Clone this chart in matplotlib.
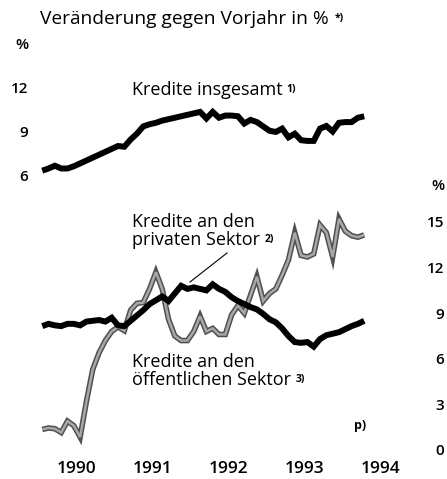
import numpy as np
import matplotlib
matplotlib.use("Agg")
import matplotlib.pyplot as plt
from matplotlib.lines import Line2D

plt.rcParams['font.family'] = ['Open Sans', 'DejaVu Sans']

# monthly values, Jan 1990 .. Apr 1994
total = [6.3, 6.45, 6.64, 6.45, 6.45, 6.6, 6.8, 7.0, 7.2, 7.4, 7.6, 7.8,
         8.0, 7.95, 8.45, 8.85, 9.35, 9.5, 9.6, 9.75, 9.85, 9.95, 10.05, 10.15,
         10.25, 10.35, 9.9, 10.35, 9.95, 10.1, 10.1, 10.05, 9.55, 9.8, 9.65, 9.35,
         9.05, 8.97, 9.2, 8.6, 8.85, 8.4, 8.35, 8.35, 9.2, 9.38, 9.0, 9.6,
         9.65, 9.65, 9.95, 10.05]
public = [8.15, 8.3, 8.2, 8.15, 8.3, 8.3, 8.2, 8.45, 8.5, 8.55, 8.45, 8.7,
          8.2, 8.15, 8.5, 8.85, 9.2, 9.6, 9.85, 10.1, 9.8, 10.3, 10.8, 10.6,
          10.7, 10.6, 10.5, 10.9, 10.6, 10.4, 10.05, 9.8, 9.6, 9.4, 9.25, 8.95,
          8.6, 8.4, 8.0, 7.5, 7.1, 7.05, 7.1, 6.8, 7.3, 7.55, 7.65, 7.75,
          7.95, 8.15, 8.3, 8.5]
private = [1.35, 1.45, 1.4, 1.15, 1.9, 1.6, 0.85, 3.2, 5.3, 6.4, 7.2, 7.8,
           8.1, 7.85, 9.2, 9.65, 9.7, 10.6, 11.7, 10.6, 8.6, 7.5, 7.2, 7.2,
           7.8, 8.8, 7.8, 8.0, 7.6, 7.6, 8.9, 9.5, 9.0, 10.2, 11.4, 9.8,
           10.3, 10.6, 11.5, 12.5, 14.3, 12.8, 12.7, 12.9, 14.8, 14.3, 12.7, 15.2,
           14.4, 14.1, 14.0, 14.15]
years = [1990, 1991, 1992, 1993, 1994]

t = 1990 + (np.arange(len(total)) + 0.5) / 12

W, H = 447, 479
fig = plt.figure(figsize=(W / 100, H / 100), dpi=100)

def px_axes(x0, y0, x1, y1):
    return fig.add_axes([x0 / W, 1 - y1 / H, (x1 - x0) / W, (y1 - y0) / H])

def ftext(x, y, s, **kw):
    return fig.text(x / W, 1 - y / H, s, **kw)

ax_top = px_axes(35, 40, 400, 190)
ax_bot = px_axes(35, 190, 400, 455)
for ax in (ax_top, ax_bot):
    ax.set_facecolor('none')
    for sp in ax.spines.values():
        sp.set_visible(False)
    ax.set_xlim(1989.946, 1994.764)

ax_top.set_ylim(4.966, 15.31)
ax_bot.set_ylim(-0.329, 17.105)

ax_top.plot(t, total, color='black', lw=4.3, solid_joinstyle='miter', solid_capstyle='butt')

ax_bot.plot(t, private, color='#505050', lw=4.0, solid_joinstyle='miter', solid_capstyle='butt')
ax_bot.plot(t, private, color='#a8a8a8', lw=1.8, solid_joinstyle='miter', solid_capstyle='butt')
ax_bot.plot(t, public, color='black', lw=4.3, solid_joinstyle='miter', solid_capstyle='butt')

tick_font = dict(fontsize=11, fontweight='semibold')
ax_top.set_xticks([])
ax_top.set_yticks([6, 9, 12])
ax_top.set_yticklabels(['6', '9', '12'], **tick_font)
ax_top.tick_params(axis='y', length=0, pad=5)

ax_bot.yaxis.tick_right()
ax_bot.set_yticks([0, 3, 6, 9, 12, 15])
ax_bot.set_yticklabels(['0', '3', '6', '9', '12', '15'], **tick_font)
for lab in ax_bot.get_yticklabels():
    lab.set_horizontalalignment('right')
ax_bot.tick_params(axis='y', length=0, pad=32)
ax_bot.set_xticks([y + 0.5 for y in years])
ax_bot.set_xticklabels([str(y) for y in years], fontsize=12.5, fontweight='semibold')
ax_bot.tick_params(axis='x', length=0, pad=4)

def sup(anchor, s, dx=3):
    fig.add_artist(plt.Annotation(s, xy=(1, 1), xycoords=anchor, xytext=(dx, -2),
                                  textcoords='offset points', ha='left', va='top',
                                  fontsize=7.5, fontweight='bold'))

ttl = ftext(40, 24, 'Veränderung gegen Vorjahr in %', fontsize=13.8, va='baseline')
sup(ttl, '*)', dx=4)
ftext(28, 49, '%', fontsize=11, fontweight='semibold', ha='right', va='baseline')
ftext(444, 190, '%', fontsize=11, fontweight='semibold', ha='right', va='baseline')

k1 = ftext(132, 95, 'Kredite insgesamt', fontsize=13, va='baseline')
sup(k1, '1)')
ftext(132, 227, 'Kredite an den', fontsize=13, va='baseline')
k2 = ftext(132, 245, 'privaten Sektor', fontsize=13, va='baseline')
sup(k2, '2)')
ftext(132, 367, 'Kredite an den', fontsize=13, va='baseline')
k3 = ftext(132, 385, 'öffentlichen Sektor', fontsize=13, va='baseline')
sup(k3, '3)')
ftext(360, 429, 'p)', fontsize=9, fontweight='bold', ha='center', va='baseline')

fig.add_artist(Line2D([227 / W, 190 / W], [1 - 253 / H, 1 - 282 / H], color='black', lw=0.8))

fig.savefig('out.png', dpi=100)
